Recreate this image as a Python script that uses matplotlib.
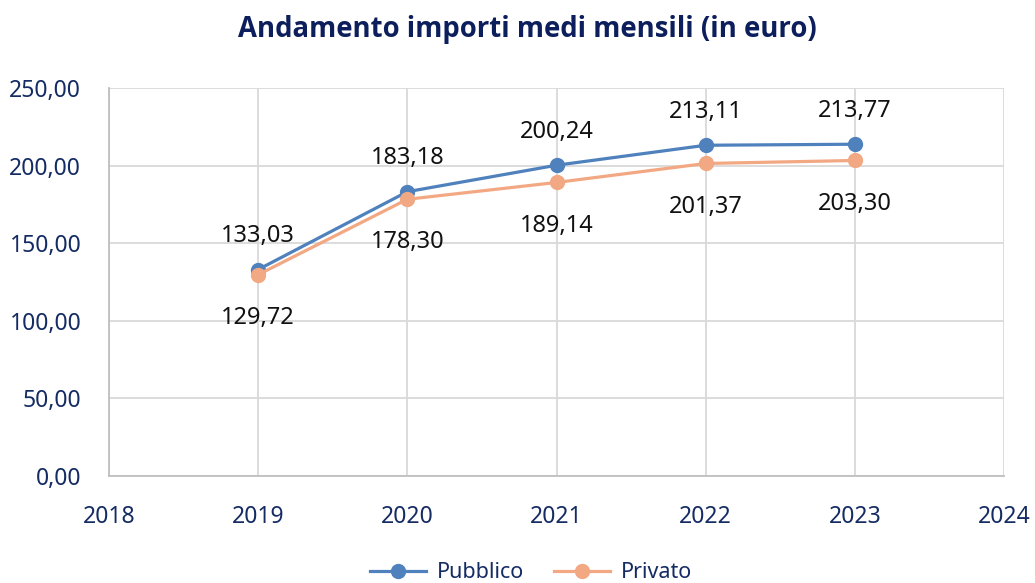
import matplotlib
matplotlib.use("Agg")
import matplotlib.pyplot as plt
from matplotlib.ticker import FuncFormatter

years = [2019, 2020, 2021, 2022, 2023]
pubblico = [133.03, 183.18, 200.24, 213.11, 213.77]
privato = [129.72, 178.30, 189.14, 201.37, 203.30]
x_ticks = [2018, 2019, 2020, 2021, 2022, 2023, 2024]
y_ticks = [0, 50, 100, 150, 200, 250]
title = "Andamento importi medi mensili (in euro)"

navy = "#142b63"
blue = "#4f81bd"
orange = "#f2a882"

fig = plt.figure(figsize=(10.35, 5.83), dpi=100)
ax = fig.add_axes([109/1035, 1-476/583, (1004-109)/1035, (476-88)/583])

def fmt(v):
    return f"{v:.2f}".replace(".", ",")

ax.plot(years, pubblico, color=blue, lw=2.3, marker="o", ms=10, label="Pubblico", zorder=3)
ax.plot(years, privato, color=orange, lw=2.3, marker="o", ms=10, label="Privato", zorder=4)

for x, v in zip(years, pubblico):
    ax.annotate(fmt(v), (x, v), xytext=(0, 24), textcoords="offset points",
                ha="center", va="center", fontsize=17, family="Noto Sans", color="#111111")
for x, v in zip(years, privato):
    ax.annotate(fmt(v), (x, v), xytext=(0, -31), textcoords="offset points",
                ha="center", va="center", fontsize=17, family="Noto Sans", color="#111111")

ax.set_xlim(2018, 2024)
ax.set_ylim(0, 250)
ax.set_xticks(x_ticks)
ax.set_yticks(y_ticks)
ax.yaxis.set_major_formatter(FuncFormatter(lambda v, p: fmt(v)))
ax.grid(True, color="#d9d9d9", lw=1.3, zorder=0)
ax.set_axisbelow(True)
for s in ["top", "right"]:
    ax.spines[s].set_visible(False)
ax.spines["left"].set_color("#bfbfbf")
ax.spines["bottom"].set_color("#bfbfbf")
ax.spines["left"].set_linewidth(1.3)
ax.spines["bottom"].set_linewidth(1.3)
ax.tick_params(axis="both", length=0, labelcolor=navy, labelsize=16.5)
ax.tick_params(axis="x", pad=21)
ax.tick_params(axis="y", pad=20)
for lab in ax.get_xticklabels() + ax.get_yticklabels():
    lab.set_family("Noto Sans")

fig.text(527/1035, 1-30/583, title, ha="center", va="center", fontsize=19.8,
         fontweight="bold", color="#0c1f5c", family="Open Sans")

leg = fig.legend(loc="center", bbox_to_anchor=(531/1035, 1-573/583), ncol=2, frameon=False,
                 prop={"family": "Noto Sans", "size": 15.5}, handlelength=2.6,
                 columnspacing=1.4, handletextpad=0.5)
for t in leg.get_texts():
    t.set_color(navy)

fig.savefig("out.png", dpi=100)
